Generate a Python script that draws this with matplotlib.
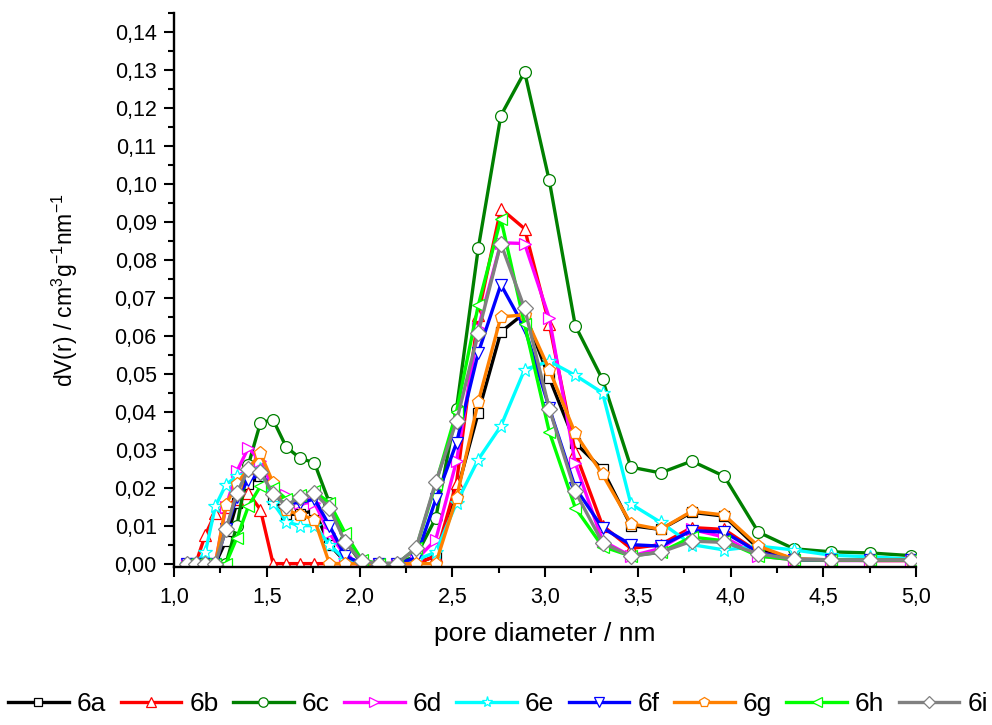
import numpy as np
import matplotlib
matplotlib.use("Agg")
import matplotlib.pyplot as plt
from matplotlib.ticker import MultipleLocator, FuncFormatter

plt.rcParams['font.family'] = ['Liberation Sans', 'DejaVu Sans']
plt.rcParams['mathtext.default'] = 'regular'

# pore diameters (nm), same grid for every sample
x = [1.068, 1.117, 1.169, 1.223, 1.280, 1.339, 1.401, 1.466, 1.534, 1.605,
     1.679, 1.757, 1.838, 1.923, 2.012, 2.105, 2.203, 2.305, 2.411, 2.523,
     2.640, 2.762, 2.890, 3.023, 3.163, 3.310, 3.463, 3.623, 3.791, 3.966,
     4.150, 4.342, 4.543, 4.753, 4.973]

# dV(r) values
y_6a = [0, 0, 0, 0, 0.006, 0.016, 0.021, 0.023, 0.017, 0.013, 0.013, 0.014, 0.005, 0.0005, 0, 0, 0,
        0, 0.002, 0.0186, 0.0397, 0.061, 0.066, 0.0489, 0.0318, 0.0248, 0.010, 0.009, 0.0135, 0.0125,
        0.004, 0.0012, 0.001, 0.001, 0.001]
y_6b = [0, 0, 0.0076, 0.0132, 0.015, 0.017, 0.0186, 0.0142, 0, 0, 0, 0, 0, 0, 0, 0, 0,
        0, 0.002, 0.0213, 0.0656, 0.0935, 0.0882, 0.063, 0.0293, 0.010, 0.004, 0.005, 0.0095, 0.009,
        0.003, 0.001, 0.001, 0.0008, 0.0008]
y_6c = [0, 0, 0, 0, 0, 0.010, 0.026, 0.0371, 0.0379, 0.0307, 0.0278, 0.0265, 0.016, 0.006, 0, 0, 0,
        0.002, 0.012, 0.0408, 0.083, 0.118, 0.1295, 0.1009, 0.0627, 0.0485, 0.0254, 0.0239, 0.027, 0.023,
        0.0083, 0.0039, 0.0031, 0.0028, 0.0021]
y_6d = [0, 0, 0, 0, 0.015, 0.0243, 0.0305, 0.027, 0.020, 0.018, 0.016, 0.016, 0.008, 0.002, 0, 0, 0,
        0.001, 0.0063, 0.027, 0.062, 0.0845, 0.0843, 0.0647, 0.0265, 0.006, 0.002, 0.004, 0.009, 0.007,
        0.002, 0.001, 0.0008, 0.0008, 0.0008]
y_6e = [0, 0, 0.003, 0.0151, 0.0208, 0.023, 0.024, 0.025, 0.016, 0.011, 0.010, 0.010, 0.005, 0.001, 0, 0, 0,
        0.001, 0.003, 0.016, 0.0274, 0.0362, 0.0511, 0.0533, 0.0496, 0.045, 0.0157, 0.0109, 0.005, 0.0036,
        0.0046, 0.0036, 0.0022, 0.0018, 0.0012]
y_6f = [0, 0, 0, 0, 0.009, 0.0175, 0.022, 0.0235, 0.020, 0.016, 0.016, 0.017, 0.010, 0.002, 0, 0, 0,
        0.0015, 0.0169, 0.0318, 0.0555, 0.0735, 0.0621, 0.041, 0.020, 0.0094, 0.005, 0.0046, 0.0087, 0.0083,
        0.003, 0.001, 0.001, 0.001, 0.001]
y_6g = [0, 0, 0, 0, 0.0155, 0.021, 0.025, 0.029, 0.0213, 0.014, 0.0129, 0.0116, 0, 0, 0, 0, 0,
        0, 0, 0.0173, 0.0426, 0.065, 0.0655, 0.0511, 0.0343, 0.0235, 0.0105, 0.009, 0.0138, 0.0128,
        0.0046, 0.0012, 0.001, 0.001, 0.001]
y_6h = [0, 0, 0, 0, 0, 0.0068, 0.0151, 0.0204, 0.020, 0.017, 0.018, 0.019, 0.016, 0.008, 0.001, 0, 0,
        0.004, 0.021, 0.040, 0.068, 0.0908, 0.063, 0.0347, 0.0147, 0.0045, 0.002, 0.003, 0.007, 0.006,
        0.002, 0.001, 0.001, 0.001, 0.001]
y_6i = [0, 0, 0, 0, 0.009, 0.0186, 0.0248, 0.0241, 0.0184, 0.0153, 0.0175, 0.0185, 0.0147, 0.0056, 0.0006, 0, 0,
        0.0041, 0.0215, 0.0375, 0.0608, 0.0843, 0.0672, 0.0408, 0.019, 0.0055, 0.0019, 0.003, 0.0059, 0.0056,
        0.0026, 0.0011, 0.001, 0.001, 0.001]

labels = ["6a", "6b", "6c", "6d", "6e", "6f", "6g", "6h", "6i"]
series = [y_6a, y_6b, y_6c, y_6d, y_6e, y_6f, y_6g, y_6h, y_6i]
colors = ["#000000", "#ff0000", "#008000", "#ff00ff", "#00ffff",
          "#0000ff", "#ff8000", "#00ff00", "#808080"]
markers = ["s", "^", "o", ">", "*", "v", "p", "<", "D"]
msizes = [7.5, 9, 8.5, 9, 10, 9, 9.5, 9, 8]

fig = plt.figure(figsize=(9.92, 7.25), dpi=100)
ax = fig.add_axes([0.1754, 0.2179, 0.7480, 0.7641])

for y, lab, c, m, ms in zip(series, labels, colors, markers, msizes):
    ax.plot(x, y, color=c, lw=2.4, marker=m, ms=ms, mfc="white",
            mec=c, mew=0.9, label=lab)

ax.set_xlim(1.0, 5.0)
ax.set_ylim(-0.0009, 0.145)
ax.xaxis.set_major_locator(MultipleLocator(0.5))
ax.xaxis.set_minor_locator(MultipleLocator(0.25))
ax.yaxis.set_major_locator(MultipleLocator(0.01))
ax.yaxis.set_minor_locator(MultipleLocator(0.005))
ax.xaxis.set_major_formatter(FuncFormatter(lambda v, p: ("%.1f" % v).replace(".", ",")))
ax.yaxis.set_major_formatter(FuncFormatter(lambda v, p: ("%.2f" % v).replace(".", ",")))

for s in ["top", "right"]:
    ax.spines[s].set_visible(False)
for s in ["left", "bottom"]:
    ax.spines[s].set_linewidth(1.7)
ax.tick_params(which="major", direction="out", length=7.5, width=1.5, labelsize=15.5)
ax.tick_params(axis="x", which="major", pad=7)
ax.tick_params(axis="y", which="major", pad=5)
ax.tick_params(which="minor", direction="out", length=4, width=1.5)

ax.set_xlabel("pore diameter / nm", fontsize=19, labelpad=10)
ax.set_ylabel("dV(r) / cm$^3$g$^{-1}$nm$^{-1}$", fontsize=16.5, labelpad=25)

fig.legend(loc="center", bbox_to_anchor=(0.502, 0.029), ncol=9, frameon=False,
           fontsize=19, handlelength=2.3, handletextpad=0.3, columnspacing=0.55,
           markerscale=0.8)

fig.savefig("out.png", dpi=100)
